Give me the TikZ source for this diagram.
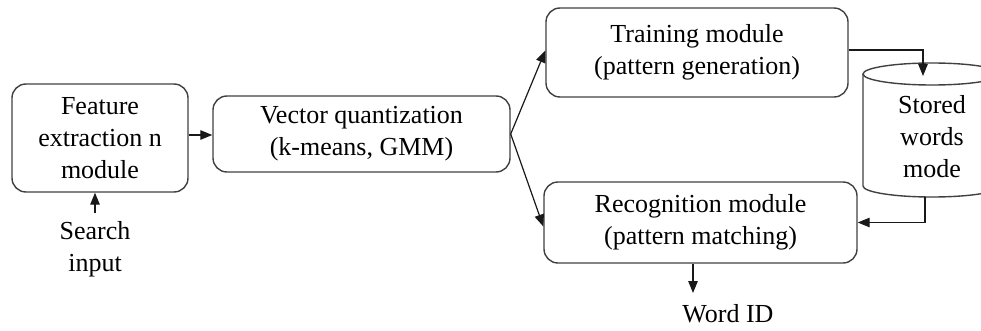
\documentclass[tikz,border=0pt]{standalone}
\usepackage{fontspec}
\setmainfont{Liberation Serif}
\usetikzlibrary{arrows.meta}
\begin{document}
\begin{tikzpicture}[x=1pt,y=1pt,
  every node/.style={font=\fontsize{26}{32}\selectfont, align=center, inner sep=0pt},
  module/.style={draw=black!75, line width=1.4pt, rounded corners=14pt},
  link/.style={draw=black!90, line width=1.2pt, -{Triangle[length=12pt,width=9.5pt]}}]
  \useasboundingbox (0,0) rectangle (981,330);
  \clip (0,0) rectangle (981,330);

  % processing stages
  \node[module, minimum width=176pt, minimum height=108pt] (feat) at (100,192)
    {Feature\\extraction n\\module};
  \node[module, minimum width=297pt, minimum height=76pt] (vq) at (361.5,196)
    {Vector quantization\\(k-means, GMM)};
  \node[module, minimum width=302pt, minimum height=89pt] (train) at (697,277.5)
    {Training module\\(pattern generation)};
  \node[module, minimum width=313pt, minimum height=81pt] (recog) at (700.5,107.5)
    {Recognition module\\(pattern matching)};

  % word store drawn as a cylinder
  \draw[draw=black!75, line width=1.4pt, fill=white]
    (863,256) -- (863,144) arc (180:360:69pt and 11pt) -- (1001,256);
  \draw[draw=black!75, line width=1.4pt] (932,256) ellipse (69pt and 11pt);
  \node (store) at (932,193) {Stored\\words\\mode};
  \coordinate (storetop) at (923,254);
  \coordinate (storebot) at (925,133);

  % external inputs and outputs
  \node (search) at (95,81) {Search\\input};
  \node (wid) at (728,16) {Word ID};
  \coordinate (searchtip) at (95,117);
  \coordinate (widtip) at (693,37);

  % connectors
  \draw[link] (feat.east |- 0,195) -- (vq.west |- 0,195);
  \draw[link] (searchtip) -- (feat.south -| searchtip);
  \draw[link] (vq.east) -- ([yshift=2pt]train.west);
  \draw[link] (vq.east) -- ([yshift=-4pt]recog.west);
  \draw[link] (train.east |- 0,280) -| (storetop);
  \draw[link] (storebot) |- (recog.east);
  \draw[link] (recog.south -| widtip) -- (widtip);
\end{tikzpicture}
\end{document}
